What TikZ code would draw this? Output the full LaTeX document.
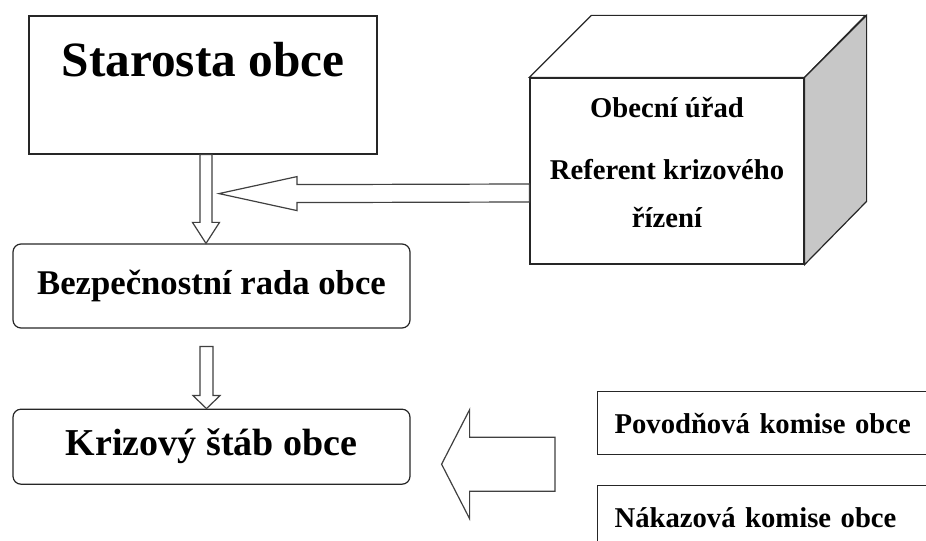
\documentclass[tikz,border=0pt]{standalone}
\usepackage{fontspec}
\setmainfont{Liberation Serif}
\usetikzlibrary{positioning, calc}

% dutá šipka dolů: #1 začátek, #2 hrot, #3 půl šířky dříku, #4 délka hrotu
\newcommand{\sipkadolu}[4]{%
  \draw[hollow] ($(#1)+(-#3,0)$) -- ($(#2)+(-#3,-#4)$) -- ($(#2)+(-13.5,-#4)$) -- (#2)
    -- ($(#2)+(13.5,-#4)$) -- ($(#2)+(#3,-#4)$) -- ($(#1)+(#3,0)$) -- cycle;}
% dutá šipka doleva: #1 začátek, #2 hrot, #3 půl dříku, #4 půl hrotu, #5 délka hrotu
\newcommand{\sipkavlevo}[5]{%
  \draw[hollow] ($(#1)+(0,-#3)$) -- ($(#2)+(#5,-#3)$) -- ($(#2)+(#5,-#4)$) -- (#2)
    -- ($(#2)+(#5,#4)$) -- ($(#2)+(#5,#3)$) -- ($(#1)+(0,#3)$) -- cycle;}

\begin{document}
\begin{tikzpicture}[
    x=0.75pt, y=-0.75pt,                 % souřadnice v pixelech
    % Styly rámečků
    box/.style={draw=black!85, line width=0.9pt, inner sep=0pt, font=\bfseries},
    roundbox/.style={box, rounded corners=6pt},
    komise/.style={box, anchor=north west, minimum height=47.25pt, text width=262pt,
      align=left, inner xsep=12.75pt, font=\bfseries\fontsize{21.5}{26}\selectfont},
    % Styl dutých šipek
    hollow/.style={draw=black!75, line width=0.9pt, fill=white, line join=miter}
]
\useasboundingbox (0,0) rectangle (926,541);
\clip (0,0) rectangle (926,541);

% Starosta
\node[box, minimum width=261pt, minimum height=103.5pt, text height=23.5pt, text depth=35.5pt,
  font=\bfseries\fontsize{37}{40}\selectfont] (starosta) at (203,85) {Starosta obce};

% Bezpečnostní rada a krizový štáb
\node[roundbox, minimum width=297.75pt, minimum height=63pt,
  font=\bfseries\fontsize{26}{30}\selectfont] (rada) at (211.5,286) {Bezpečnostní rada obce};
\node[roundbox, minimum width=297.75pt, minimum height=56.25pt, below=60pt of rada,
  font=\bfseries\fontsize{28.5}{32}\selectfont] (stab) {Krizový štáb obce};

% Obecní úřad (kvádr)
\node[box, minimum width=205.5pt, minimum height=139.5pt, align=center,
  font=\bfseries\fontsize{21.5}{36}\selectfont] (urad) at (667,171)
  {Obecní úřad\\[11pt]Referent krizového\\řízení\rule[-12.75pt]{0pt}{0pt}};
\draw[box, fill=white] (urad.north west) -- ++(62,-62) -- ++(274,0) -- (urad.north east) -- cycle;
\draw[box, fill=black!22] (urad.north east) -- ++(62,-62) -- ++(0,186) -- (urad.south east) -- cycle;

% Komise
\node[komise] (povodnova) at (597,391) {Povodňová komise obce};
\node[komise, below=22.5pt of povodnova] (nakazova) {Nákazová komise obce};

% Šipky
\coordinate (z1) at ($(starosta.south)+(3,0)$);
\coordinate (z2) at ($(rada.south)+(-5,18)$);
\coordinate (z3) at ($(urad.west)+(0,22)$);
\coordinate (z4) at ($(povodnova.south west)+(-42,9)$);
\coordinate (hrot1) at ($(z1)+(13,39)$);
\coordinate (hrot2) at ($(stab.east)+(31,17.5)$);
\sipkadolu{z1}{z1 |- rada.north}{6}{21}
\sipkadolu{z2}{z2 |- stab.north}{6.5}{13}
\sipkavlevo{z3}{hrot1}{9}{17}{78}
\sipkavlevo{z4}{hrot2}{27}{54.5}{28}

\end{tikzpicture}
\end{document}
